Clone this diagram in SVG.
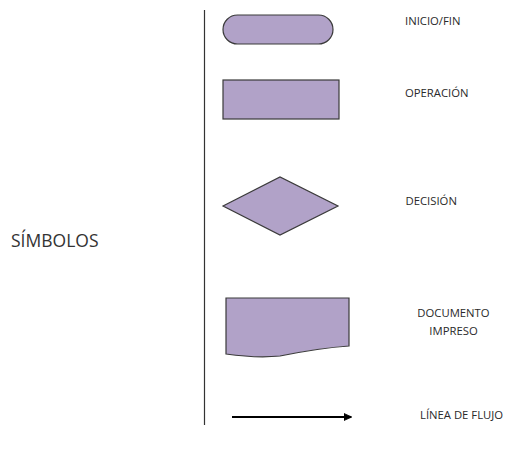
<svg xmlns="http://www.w3.org/2000/svg" width="505" height="452" viewBox="0 0 505 452">
  <style>
    .shape { fill: #b1a2c8; stroke: #3a3a3a; stroke-width: 1.2; }
    .lbl { font-family: "Open Sans", "Liberation Sans", sans-serif; font-size: 11.3px; fill: #2a2a2a; }
    .title { font-family: "Open Sans", "Liberation Sans", sans-serif; font-size: 17.5px; fill: #333333; }
  </style>
  <defs>
    <marker id="arrow" viewBox="0 0 10 10" refX="9" refY="5" markerWidth="8" markerHeight="8" orient="auto" markerUnits="userSpaceOnUse">
      <path d="M0,0.5 L10,5 L0,9.5 z" fill="#000000" stroke="#000000" stroke-width="1" stroke-linejoin="round"/>
    </marker>
  </defs>

  <rect width="505" height="452" fill="#ffffff"/>

  <!-- divider -->
  <line x1="204.5" y1="10" x2="204.5" y2="425" stroke="#333333" stroke-width="1.2"/>

  <g id="title">
    <text class="title" x="11" y="247">SÍMBOLOS</text>
  </g>

  <g id="inicio-fin">
    <rect class="shape" x="223" y="15" width="110" height="29" rx="14.5" ry="14.5"/>
    <text class="lbl" x="405" y="25">INICIO/FIN</text>
  </g>

  <g id="operacion">
    <rect class="shape" x="223" y="80" width="116" height="39"/>
    <text class="lbl" x="405" y="97">OPERACIÓN</text>
  </g>

  <g id="decision">
    <polygon class="shape" points="223,206 280,177 338,206 280,235"/>
    <text class="lbl" x="405.5" y="205">DECISIÓN</text>
  </g>

  <g id="documento">
    <path class="shape" d="M226,298 H349 V346 C320,348 300,352 280,356 C260,358 240,356 226,354 Z"/>
    <text class="lbl" x="453.5" y="316.5" text-anchor="middle">DOCUMENTO</text>
    <text class="lbl" x="453.5" y="335" text-anchor="middle">IMPRESO</text>
  </g>

  <g id="connectors">
    <line x1="232" y1="417" x2="351" y2="417" stroke="#000000" stroke-width="1.8" marker-end="url(#arrow)"/>
  </g>

  <g id="linea-flujo">
    <text class="lbl" x="420" y="419">LÍNEA DE FLUJO</text>
  </g>
</svg>
